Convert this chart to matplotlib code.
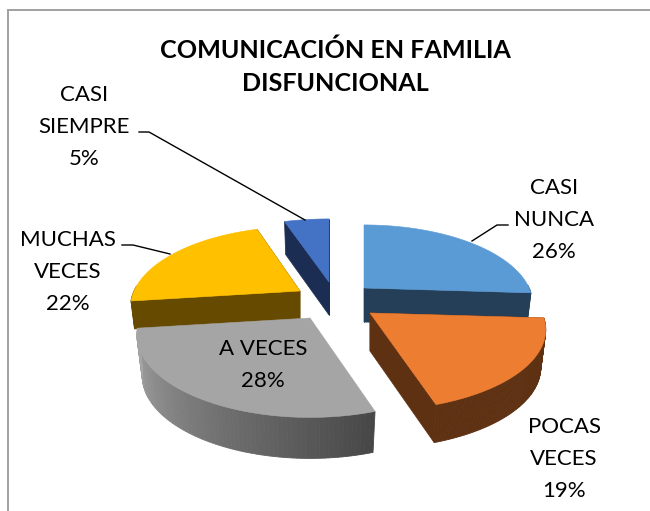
import numpy as np
import matplotlib
matplotlib.use('Agg')
import matplotlib.pyplot as plt
from matplotlib.patches import Polygon

plt.rcParams['font.family'] = ['Lato', 'DejaVu Sans']

categories = ['CASI\nNUNCA', 'POCAS\nVECES', 'A VECES', 'MUCHAS\nVECES', 'CASI\nSIEMPRE']
values = [26, 19, 28, 22, 5]
title = 'COMUNICACIÓN EN FAMILIA\nDISFUNCIONAL'

# pixel layout of the exploded slices
apex = [(364, 288), (370, 313), (310, 318), (300, 291), (329, 282)]
depth = [34, 38, 41, 28, 33]
radius_x = [0.96, 1.0, 0.985, 0.965, 1.0]
radius_y = [1.0, 1.02, 1.04, 1.02, 1.0]
top_colors = ['#5b9bd5', '#ed7d31', '#a5a5a5', '#ffc000', '#4472c4']
side_colors = ['#243f57', '#5f3113', '#8a8a8a', '#664a00', '#1b2d52']
label_pos = [(554, 220), (564, 459), (263, 365), (68, 272), (84, 127)]

RX, RY, K = 172, 76, 0.205  # fake perspective of the tilted disc

fig = plt.figure(figsize=(6.5, 5.11), dpi=100)
ax = fig.add_axes([0, 0, 1, 1])
ax.set_xlim(0, 650)
ax.set_ylim(511, 0)
ax.axis('off')


def rim(t, i, d=0):
    # t is clockwise from the top, in radians
    a = apex[i]
    w = 1 + K * np.cos(t)
    shrink = 1 - 0.03 * d / 40
    x = a[0] + shrink * radius_x[i] * RX * np.sin(t) / w
    y = a[1] + d - radius_y[i] * RY * np.cos(t) / w
    return x, y


def mix(c1, c2, f):
    c1 = np.array(matplotlib.colors.to_rgb(c1))
    c2 = np.array(matplotlib.colors.to_rgb(c2))
    return tuple(c1 + (c2 - c1) * f)


edges = np.cumsum([0] + values) / sum(values) * 2 * np.pi

# back slices first so the front ones cover them
for i in [4, 0, 3, 2, 1]:
    a, d, t0, t1 = apex[i], depth[i], edges[i], edges[i + 1]
    ts = np.linspace(t0, t1, 80)
    tx, ty = rim(ts, i)
    bx, by = rim(ts, i, d)

    # radial cut faces
    for t in (t0, t1):
        ex, ey = rim(t, i)
        fx, fy = rim(t, i, d)
        face = [(a[0], a[1]), (ex, ey), (fx, fy), (a[0], a[1] + d)]
        if i != 2:
            ax.add_patch(Polygon(face, fc=side_colors[i], ec=side_colors[i], lw=0.5))

    # outer wall, only the part facing us
    for j in range(len(ts) - 1):
        if np.cos(ts[j]) > 0.05:
            continue
        col = side_colors[i]
        if i == 2:
            col = mix('#a6a6a6', '#474747', 1 - j / (len(ts) - 2))
        quad = [(tx[j], ty[j]), (tx[j + 1], ty[j + 1]), (bx[j + 1], by[j + 1]), (bx[j], by[j])]
        ax.add_patch(Polygon(quad, fc=col, ec=col, lw=0.6))

    pts = [(a[0], a[1])] + list(zip(tx, ty))
    ax.add_patch(Polygon(pts, fc=top_colors[i], ec=top_colors[i], lw=0.4))

# leader lines
ax.plot([139, 149, 305], [132, 132, 220], color='black', lw=1)
ax.plot([122, 133, 170], [245, 245, 254], color='black', lw=1)
ax.plot([508, 497, 472], [225, 225, 241], color='black', lw=1)

for cat, v, (x, y) in zip(categories, values, label_pos):
    ax.text(x, y, f'{cat}\n{v}%', ha='center', va='center', fontsize=16,
            color='black', linespacing=1.76)

ax.text(335, 67, title, ha='center', va='center', fontsize=18.1, fontweight='bold',
        color='black', linespacing=1.55)

# chart frame, runs off the right and bottom of the image
ax.plot([8, 8], [511, 10], color='#a0a0a0', lw=1.4)
ax.plot([8, 650], [10, 10], color='#a0a0a0', lw=1.4)

fig.savefig('out.png', dpi=100)
